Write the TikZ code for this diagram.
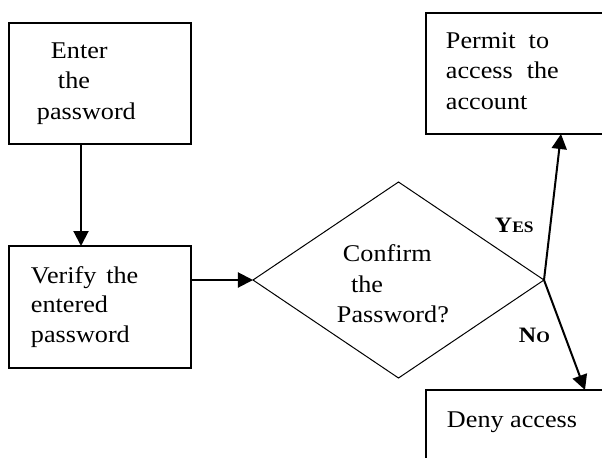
\documentclass[tikz,border=0pt]{standalone}
\usepackage{fontspec}
\setmainfont{Liberation Serif}[FakeStretch=1.09]
\usetikzlibrary{arrows.meta,shapes.geometric}
\begin{document}
\begin{tikzpicture}[x=0.5pt,y=-0.5pt,
  box/.style={draw, line width=0.6pt, rectangle, inner sep=0pt, outer sep=0pt},
  txt/.style={anchor=base west, inner sep=0pt, outer sep=0pt, font=\fontsize{12}{14}\selectfont},
  lbl/.style={anchor=base west, inner sep=0pt, outer sep=0pt, font=\bfseries},
  flow/.style={line width=1pt, -{Triangle[length=7.5pt,width=7.5pt]}}]
\useasboundingbox (0,0) rectangle (602,457);
\clip (0,0) rectangle (602,457);

% boxes
\node[box, minimum width=91pt, minimum height=60.5pt] (b1) at (100,83.5) {};
\node[box, minimum width=91pt, minimum height=61pt] (b2) at (100,307) {};
\node[box, minimum width=127pt, minimum height=60.5pt] (b3) at (553,73.5) {};
\node[box, minimum width=127pt, minimum height=65pt] (b4) at (553,455) {};

% decision
\node[diamond, draw, line width=0.5pt, minimum width=145.5pt, minimum height=98pt,
      inner sep=0pt, outer sep=0pt] (dec) at (398.5,280) {};

% box texts
\node[txt] (t1a) at (51,58) {Enter};
\node[txt] (t1b) at (58,88) {the};
\node[txt] (t1c) at (37,119) {password};

\node[txt] (t2a) at (31,283) {Verify\hspace{5pt}the};
\node[txt] (t2b) at (31,312) {entered};
\node[txt] (t2c) at (31,342) {password};

\node[txt] (t3a) at (446,48) {Permit\hspace{6.5pt}to};
\node[txt] (t3b) at (446,78) {access\hspace{7pt}the};
\node[txt] (t3c) at (446,109) {account};

\node[txt] (t4a) at (447,427) {Deny access};

\node[txt] (tda) at (343,261) {Confirm};
\node[txt] (tdb) at (351,292) {the};
\node[txt] (tdc) at (337,322) {Password?};

% branch labels
\node[lbl] (yes) at (495,232) {\fontsize{11}{13}\selectfont Y\fontsize{8}{10}\selectfont ES};
\node[lbl] (no) at (519,342) {\fontsize{11}{13}\selectfont N\fontsize{8}{10}\selectfont O};

% connectors
\draw[flow] ([xshift=-9.5pt]b1.south) -- ([xshift=-9.5pt]b2.north);
\draw[flow] (b2.east |- dec.west) -- (dec.west);
\draw[flow] (dec.east) -- ([xshift=4pt]b3.south);
\draw[flow] (dec.east) -- ([xshift=16pt]b4.north);
\end{tikzpicture}
\end{document}
